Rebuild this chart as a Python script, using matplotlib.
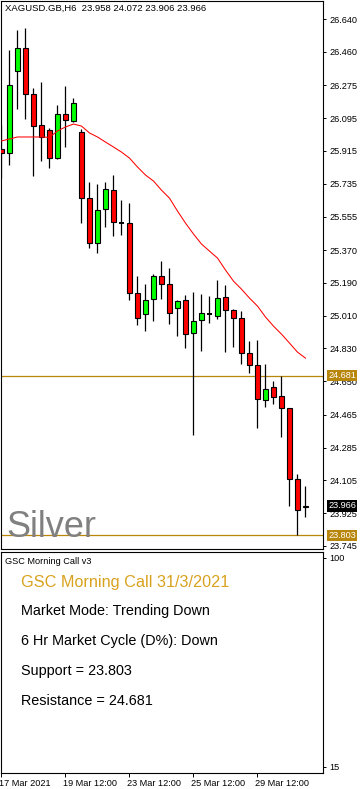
import matplotlib
matplotlib.use("Agg")
import matplotlib.pyplot as plt
import matplotlib.transforms as mtransforms
import numpy as np

plt.rcParams["font.family"] = ["Liberation Sans", "DejaVu Sans"]

W, H = 363, 789

# XAGUSD H6 candles (oldest first)
opens = [25.926, 25.904, 26.354, 26.481, 26.228, 26.058, 26.030, 25.876, 26.118, 26.080,
         26.019, 25.656, 25.409, 25.596, 25.700, 25.522, 25.520, 25.135, 25.019, 25.102,
         25.228, 25.184, 25.052, 25.096, 24.915, 24.986, 25.022, 25.008, 25.113, 25.041,
         24.997, 24.805, 24.739, 24.547, 24.618, 24.569, 24.503, 24.113, 23.958]
highs = [26.058, 26.470, 26.580, 26.591, 26.261, 26.294, 26.041, 26.167, 26.272, 26.206,
         26.036, 25.744, 25.733, 25.744, 25.783, 25.645, 25.629, 25.228, 25.184, 25.239,
         25.310, 25.272, 25.096, 25.124, 25.140, 25.129, 25.118, 25.206, 25.178, 25.047,
         25.036, 24.871, 24.876, 24.744, 24.651, 24.681, 24.503, 24.140, 24.072]
lows = [25.766, 25.838, 26.145, 26.091, 25.777, 25.860, 25.821, 25.870, 25.937, 26.075,
        25.519, 25.382, 25.354, 25.497, 25.448, 25.453, 25.096, 24.959, 24.926, 24.981,
        25.102, 24.964, 24.898, 24.832, 24.354, 24.816, 24.970, 24.992, 24.810, 24.838,
        24.744, 24.695, 24.393, 24.508, 24.525, 24.343, 23.964, 23.803, 23.906]
closes = [25.904, 26.277, 26.481, 26.228, 26.052, 25.992, 25.876, 26.118, 26.085, 26.178,
          25.656, 25.409, 25.591, 25.706, 25.525, 25.522, 25.135, 24.997, 25.096, 25.228,
          25.184, 25.025, 25.091, 24.909, 24.981, 25.025, 25.022, 25.107, 25.041, 24.997,
          24.805, 24.739, 24.552, 24.607, 24.563, 24.503, 24.113, 23.942, 23.966]
# moving average line as drawn
ma = [25.970, 25.981, 25.992, 25.992, 25.992, 25.992, 25.990, 26.025, 26.047, 26.063,
      26.052, 26.014, 25.992, 25.964, 25.937, 25.909, 25.876, 25.827, 25.783, 25.750,
      25.700, 25.656, 25.585, 25.519, 25.459, 25.404, 25.365, 25.327, 25.261, 25.200,
      25.156, 25.107, 25.063, 25.003, 24.953, 24.909, 24.860, 24.810, 24.777]

support = 23.803
resistance = 24.681
price_ticks = [26.640, 26.460, 26.275, 26.095, 25.915, 25.735, 25.555, 25.370, 25.190,
               25.010, 24.830, 24.650, 24.465, 24.285, 24.105, 23.925, 23.745]
date_bars = [0, 8, 16, 24, 32]
date_labels = ["17 Mar 2021", "19 Mar 12:00", "23 Mar 12:00", "25 Mar 12:00", "29 Mar 12:00"]
panel_ticks = [15, 100]
panel_title = "GSC Morning Call 31/3/2021"
panel_lines = ["Market Mode: Trending Down",
               "6 Hr Market Cycle (D%): Down",
               f"Support = {support:.3f}",
               f"Resistance = {resistance:.3f}"]

GOLD = "#b8860b"
FS = 6.6


def fx(px):
    return px / W


def fy(py):
    return 1 - py / H


fig = plt.figure(figsize=(W / 100, H / 100), dpi=100)
ax = fig.add_axes([fx(1), fy(549), 322 / W, 548 / H])
ax2 = fig.add_axes([fx(1), fy(773), 322 / W, 221 / H])

x = np.arange(len(opens))
o = np.array(opens)
c = np.array(closes)
up = c > o
down = c < o
flat = c == o

ax.axhline(resistance, color=GOLD, lw=0.9, zorder=1)
ax.axhline(support, color=GOLD, lw=0.9, zorder=1)
ax.vlines(x, lows, highs, color="black", lw=0.9, zorder=2)
ax.bar(x[up], (c - o)[up], bottom=o[up], width=0.52, color="#00ff00",
       edgecolor="black", lw=0.8, zorder=3)
ax.bar(x[down], (o - c)[down], bottom=c[down], width=0.52, color="#ff0000",
       edgecolor="black", lw=0.8, zorder=3)
ax.hlines(o[flat], x[flat] - 0.3, x[flat] + 0.3, color="black", lw=1.4, zorder=3)
ax.plot(x, ma, color="red", lw=0.75, zorder=4)

xlim = (-0.0625, 40.19)
ax.set_xlim(*xlim)
ax.set_ylim(23.7285, 26.739)
ax.set_xticks([])
ax.yaxis.tick_right()
ax.set_yticks(price_ticks)
ax.set_yticklabels([f"{t:.3f}" for t in price_ticks])
ax.tick_params(axis="y", direction="out", length=2.5, width=0.7, pad=2, labelsize=FS)
for s in ax.spines.values():
    s.set_linewidth(0.8)

# price labels on the right scale
trans = mtransforms.blended_transform_factory(ax.transAxes, ax.transData)
for val, bg in [(resistance, GOLD), (support, GOLD), (closes[-1], "black")]:
    ax.text(1.0 + 5 / 322, val, f"{val:.3f}", transform=trans, color="white",
            fontsize=FS, va="center", ha="left", zorder=10, clip_on=False,
            bbox=dict(boxstyle="square,pad=0.15", fc=bg, ec="none"))

fig.text(fx(5), fy(8),
         f"XAGUSD.GB,H6  {opens[-1]:.3f} {highs[-1]:.3f} {lows[-1]:.3f} {closes[-1]:.3f}",
         fontsize=6.8, va="center", ha="left")
fig.text(fx(6), fy(537), "Silver", fontsize=26, color="#808080", va="baseline", ha="left")

# lower indicator panel
ax2.set_xlim(*xlim)
ax2.set_ylim(12.56, 102.4)
ax2.yaxis.tick_right()
ax2.set_yticks(panel_ticks)
ax2.set_yticklabels([str(t) for t in panel_ticks])
ax2.set_xticks(date_bars)
ax2.set_xticklabels(date_labels, ha="left")
ax2.tick_params(axis="y", direction="out", length=2.5, width=0.7, pad=2, labelsize=FS)
ax2.tick_params(axis="x", direction="out", length=3, width=0.7, pad=1, labelsize=FS)
offset = mtransforms.ScaledTranslation(-2 / 100, 0, fig.dpi_scale_trans)
for lbl in ax2.get_xticklabels():
    lbl.set_transform(lbl.get_transform() + offset)
for s in ax2.spines.values():
    s.set_linewidth(0.8)

fig.text(fx(5), fy(561), "GSC Morning Call v3", fontsize=FS, va="center", ha="left")
fig.text(fx(21), fy(582), panel_title, fontsize=11.7, color="#d9a21e", va="center", ha="left")
for i, line in enumerate(panel_lines):
    fig.text(fx(21), fy(611 + 30 * i), line, fontsize=10.4, color="black", va="center", ha="left")

fig.savefig("out.png", dpi=100)
